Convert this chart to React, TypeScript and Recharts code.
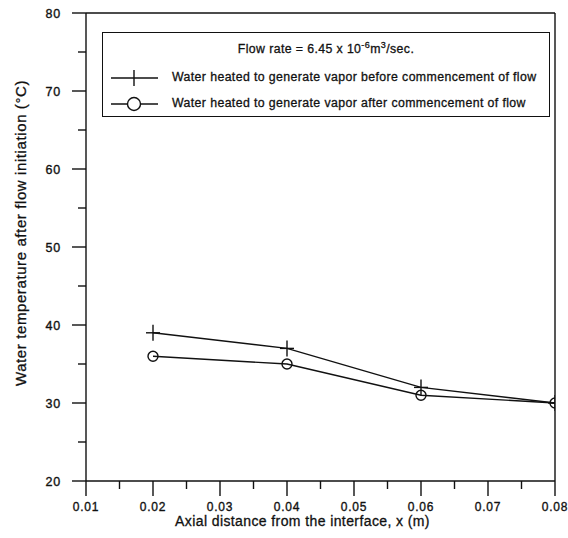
import React from "react";
import {
  LineChart, Line, XAxis, YAxis, Legend, ReferenceLine, Label,
} from "recharts";

const xPositions = [0.02, 0.04, 0.06, 0.08];
const beforeFlow = [39, 37, 32, 30];
const afterFlow = [36, 35, 31, 30];

const xMajorTicks = [0.01, 0.02, 0.03, 0.04, 0.05, 0.06, 0.07, 0.08];
const xMinorTicks = [0.015, 0.025, 0.035, 0.045, 0.055, 0.065, 0.075];
const yMajorTicks = [20, 30, 40, 50, 60, 70, 80];
const yMinorTicks = [25, 35, 45, 55, 65, 75];

const seriesNames = [
  "Water heated to generate vapor before commencement of flow",
  "Water heated to generate vapor after commencement of flow",
];

const data = xPositions.map((x, i) => ({ x, before: beforeFlow[i], after: afterFlow[i] }));
const xTicks = [...xMajorTicks, ...xMinorTicks].sort((a, b) => a - b);
const yTicks = [...yMajorTicks, ...yMinorTicks].sort((a, b) => a - b);

const FONT = "'Liberation Sans', Arial, Helvetica, sans-serif";
const INK = "#111";
const SW = 1.4;

const isMajor = (list: number[], v: number) => list.some((t) => Math.abs(t - v) < 1e-9);

const XTick = ({ x, y, payload }: any) => {
  const major = isMajor(xMajorTicks, payload.value);
  return (
    <g>
      <line x1={x} x2={x} y1={y} y2={y + (major ? 15 : 8)} stroke={INK} strokeWidth={SW} />
      {major && (
        <text x={x} y={y + 30} textAnchor="middle" fontSize={12} fontFamily={FONT} fill={INK}
          stroke={INK} strokeWidth={0.35} letterSpacing={0.8}>
          {payload.value.toFixed(2)}
        </text>
      )}
    </g>
  );
};

const YTick = ({ x, y, payload }: any) => {
  const major = isMajor(yMajorTicks, payload.value);
  return (
    <g>
      <line x1={x - (major ? 14 : 8)} x2={x} y1={y} y2={y} stroke={INK} strokeWidth={SW} />
      {major && (
        <text x={x - 25} y={y + 4.5} textAnchor="end" fontSize={12.5} fontFamily={FONT} fill={INK}
          stroke={INK} strokeWidth={0.35} letterSpacing={0.8}>
          {payload.value}
        </text>
      )}
    </g>
  );
};

const PlusDot = ({ cx, cy }: any) => (
  <g>
    <line x1={cx - 7} x2={cx + 7} y1={cy} y2={cy} stroke={INK} strokeWidth={SW} />
    <line x1={cx} x2={cx} y1={cy - 8} y2={cy + 8} stroke={INK} strokeWidth={SW} />
  </g>
);

const CircleDot = ({ cx, cy }: any) => (
  <circle cx={cx} cy={cy} r={5} fill="none" stroke={INK} strokeWidth={SW} />
);

const LegendBox = () => (
  <div
    style={{
      position: "relative", width: 448, height: 85, boxSizing: "border-box",
      border: `1.4px solid ${INK}`, fontFamily: FONT, fontSize: 12.3, color: INK,
      background: "#fff", letterSpacing: 0.4, WebkitTextStroke: "0.3px #111",
    }}
  >
    <div style={{ position: "absolute", top: 7, left: 0, width: "100%", textAlign: "center" }}>
      Flow rate = 6.45 x 10<sup style={{ fontSize: 9 }}>-6</sup>m<sup style={{ fontSize: 9 }}>3</sup>/sec.
    </div>
    {seriesNames.map((name, i) => (
      <div key={name} style={{ position: "absolute", top: 37 + i * 26, left: 0, height: 16, whiteSpace: "nowrap" }}>
        <svg width={60} height={18} style={{ position: "absolute", left: 6, top: -1 }}>
          <line x1={2} x2={49} y1={9} y2={9} stroke={INK} strokeWidth={SW} />
          {i === 0 ? (
            <line x1={25} x2={25} y1={1} y2={17} stroke={INK} strokeWidth={SW} />
          ) : (
            <circle cx={25} cy={9} r={6.5} fill="#fff" stroke={INK} strokeWidth={SW} />
          )}
        </svg>
        <span style={{ position: "absolute", left: 69, top: 0 }}>{name}</span>
      </div>
    ))}
  </div>
);

export default function App() {
  return (
    <div style={{ position: "absolute", left: 0, top: 0, background: "#fff" }}>
      <LineChart width={568} height={538} data={data} margin={{ top: 13, right: 13, left: 0, bottom: 0 }}>
        <XAxis
          dataKey="x"
          type="number"
          domain={[0.01, 0.08]}
          ticks={xTicks}
          interval={0}
          tick={<XTick />}
          tickLine={false}
          tickSize={0}
          tickMargin={0}
          height={57}
          axisLine={{ stroke: INK, strokeWidth: SW }}
          allowDataOverflow
        >
          <Label
            content={({ viewBox }: any) => (
              <text x={viewBox.x + viewBox.width / 2 - 18} y={viewBox.y + 45} textAnchor="middle"
                fontSize={14} fontFamily={FONT} fill={INK} stroke={INK} strokeWidth={0.3} letterSpacing={0.4}>
                Axial distance from the interface, x (m)
              </text>
            )}
          />
        </XAxis>
        <YAxis
          type="number"
          domain={[20, 80]}
          ticks={yTicks}
          interval={0}
          tick={<YTick />}
          tickLine={false}
          tickSize={0}
          tickMargin={0}
          width={86}
          axisLine={{ stroke: INK, strokeWidth: SW }}
          allowDataOverflow
        >
          <Label
            content={({ viewBox }: any) => {
              const cx = 20;
              const cy = viewBox.y + viewBox.height / 2 - 14;
              return (
                <text x={cx} y={cy} textAnchor="middle" dominantBaseline="central"
                  transform={`rotate(-90 ${cx} ${cy})`}
                  fontSize={15} fontFamily={FONT} fill={INK} stroke={INK} strokeWidth={0.3} letterSpacing={0.6}>
                  Water temperature after flow initiation (°C)
                </text>
              );
            }}
          />
        </YAxis>
        <ReferenceLine y={80} stroke={INK} strokeWidth={SW} />
        <ReferenceLine x={0.08} stroke={INK} strokeWidth={SW} />
        <Legend
          layout="vertical"
          align="center"
          verticalAlign="middle"
          content={<LegendBox />}
          wrapperStyle={{ top: 32, left: 102, width: 448, height: 85 }}
        />
        <Line
          dataKey="after"
          name={seriesNames[1]}
          stroke={INK}
          strokeWidth={SW}
          dot={<CircleDot />}
          activeDot={false}
          isAnimationActive={false}
        />
        <Line
          dataKey="before"
          name={seriesNames[0]}
          stroke={INK}
          strokeWidth={SW}
          dot={<PlusDot />}
          activeDot={false}
          isAnimationActive={false}
        />
      </LineChart>
    </div>
  );
}
